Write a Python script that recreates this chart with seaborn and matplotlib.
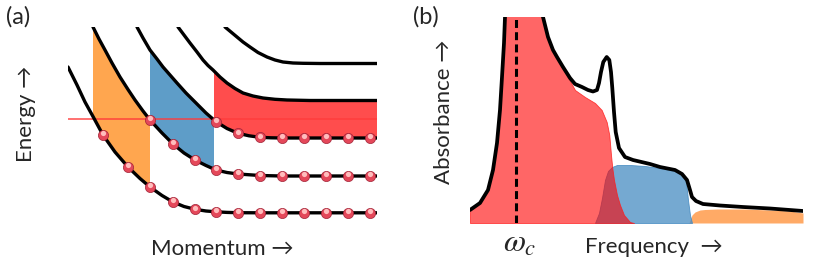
import numpy as np
import matplotlib
matplotlib.use("Agg")
import matplotlib.pyplot as plt
from matplotlib import transforms
import seaborn as sns
import pandas as pd

# ---- (a) dispersion branches: momentum vs energy (arbitrary units) ----
k1 = [0.0, 0.9, 1.7, 2.5, 3.5, 4.7, 6.0, 7.2, 8.2, 9.4, 10.5, 11.6, 12.7, 13.8, 14.8, 15.9, 17.0, 19.2, 21.4, 23.6, 25.8, 28.0, 30.9]
e1 = [15.8, 14.0, 12.3, 10.85, 9.0, 7.3, 5.8, 4.65, 3.8, 2.95, 2.3, 1.85, 1.57, 1.4, 1.32, 1.26, 1.23, 1.22, 1.22, 1.22, 1.22, 1.22, 1.22]
k2 = [2.5, 3.1, 3.7, 4.4, 5.2, 6.0, 6.7, 7.5, 8.2, 9.4, 10.5, 11.6, 12.7, 13.8, 14.8, 15.9, 17.0, 19.2, 21.4, 23.6, 25.8, 28.0, 30.9]
e2 = [19.8, 18.6, 17.5, 16.2, 14.8, 13.55, 12.5, 11.4, 10.5, 9.2, 8.1, 7.2, 6.5, 5.95, 5.5, 5.25, 5.1, 4.95, 4.9, 4.9, 4.9, 4.9, 4.9]
k3 = [6.9, 7.5, 8.2, 8.9, 9.5, 10.2, 10.9, 11.8, 12.8, 13.8, 14.8, 15.9, 17.0, 18.1, 19.2, 20.3, 21.4, 23.6, 25.8, 28.0, 30.9]
e3 = [19.8, 18.7, 17.5, 16.6, 15.8, 15.0, 14.2, 13.2, 12.2, 11.2, 10.33, 9.65, 9.17, 8.92, 8.77, 8.72, 8.7, 8.7, 8.7, 8.7, 8.7]
k4 = [11.0, 11.6, 12.2, 12.9, 13.5, 14.0, 14.5, 15.2, 15.9, 16.7, 17.5, 18.5, 19.5, 20.7, 21.9, 24.2, 30.9]
e4 = [19.8, 19.0, 18.2, 17.3, 16.5, 15.95, 15.5, 14.8, 14.2, 13.65, 13.2, 12.9, 12.7, 12.57, 12.5, 12.45, 12.45]
k5 = [15.7, 16.3, 16.9, 17.5, 18.2, 19.0, 19.9, 20.7, 21.5, 22.5, 23.5, 25.2, 30.9]
e5 = [19.8, 19.3, 18.8, 18.3, 17.8, 17.25, 16.8, 16.5, 16.3, 16.2, 16.17, 16.15, 16.15]

# occupied states (dots) on the three lowest branches
dot_k1 = [3.5, 6.0, 8.2, 10.5, 12.7, 14.8, 17.0, 19.2, 21.4, 23.6, 25.8, 28.0, 30.2]
dot_e1 = [9.0, 5.83, 3.83, 2.33, 1.57, 1.33, 1.23, 1.23, 1.23, 1.23, 1.23, 1.23, 1.23]
dot_k2 = [8.2, 10.5, 12.7, 14.8, 17.0, 19.2, 21.4, 23.6, 25.8, 28.0, 30.2]
dot_e2 = [10.5, 8.1, 6.5, 5.5, 5.1, 4.93, 4.9, 4.9, 4.9, 4.9, 4.9]
dot_k3 = [14.8, 17.0, 19.2, 21.4, 23.6, 25.8, 28.0, 30.2]
dot_e3 = [10.33, 9.17, 8.77, 8.7, 8.7, 8.7, 8.7, 8.7]

fermi_e = 10.57
band_edges = [2.5, 8.2, 14.6, 30.9]   # orange | blue | red transition windows

# ---- (b) absorbance spectrum ----
f_tot = [0.0, 1.0, 1.8, 2.3, 2.7, 3.0, 3.2, 3.4, 3.5, 3.6, 7.2, 7.3, 7.8, 8.3, 8.7, 9.3, 10.0, 10.5,
         11.2, 11.8, 12.3, 12.7, 12.9, 13.1, 13.33, 13.67, 13.93, 14.1, 14.23, 14.4, 14.57, 14.9, 15.5,
         16.3, 18.0, 19.0, 20.5, 21.2, 21.7, 22.0, 22.2, 22.6, 23.3, 25.0, 27.3, 30.0, 33.3]
a_tot = [1.3, 2.0, 3.3, 5.3, 8.0, 11.3, 14.6, 18.0, 20.6, 26.0, 26.0, 20.6, 18.6, 17.3, 16.6, 15.6, 14.5, 13.9,
         13.6, 13.3, 13.15, 13.3, 14.0, 15.1, 16.1, 16.6, 16.3, 15.1, 13.5, 11.1, 9.1, 7.5, 6.6,
         6.3, 5.9, 5.6, 5.3, 4.9, 4.3, 3.3, 2.6, 2.2, 1.9, 1.75, 1.6, 1.45, 1.2]
f_red = [0.0, 1.0, 1.8, 2.3, 2.7, 3.0, 3.2, 3.4, 3.5, 3.6, 7.2, 7.3, 7.8, 8.3, 8.7, 9.3, 10.0, 10.5,
         11.5, 12.5, 13.17, 13.67, 13.93, 14.1, 14.23, 14.4, 14.7, 15.0, 15.4, 16.0, 16.4]
a_red = [1.3, 2.0, 3.3, 5.3, 8.0, 11.3, 14.6, 18.0, 20.6, 26.0, 26.0, 20.6, 18.6, 17.3, 16.6, 15.4, 14.2, 13.3,
         12.6, 12.0, 11.3, 10.1, 8.8, 6.8, 5.5, 4.3, 2.8, 1.8, 0.8, 0.1, 0.0]
f_blue = [12.5, 12.9, 13.2, 13.5, 13.8, 14.2, 14.7, 16.0, 17.5, 19.0, 20.5, 21.3, 21.6, 21.8, 22.0, 22.2]
a_blue = [0.0, 1.0, 2.5, 4.3, 5.2, 5.6, 5.8, 5.8, 5.7, 5.5, 5.2, 4.8, 4.2, 2.3, 0.8, 0.0]
f_orange = [21.9, 22.2, 22.5, 23.0, 23.5, 24.7, 27.3, 30.0, 32.0, 33.3]
a_orange = [0.0, 0.8, 1.1, 1.3, 1.35, 1.4, 1.4, 1.3, 1.2, 1.0]
omega_c = 4.6

W, H = 830, 268
sns.set_style("white")
plt.rcParams["font.family"] = ["Lato", "DejaVu Sans"]
plt.rcParams["mathtext.fontset"] = "stix"

fig = plt.figure(figsize=(W / 100, H / 100), dpi=100)


def px_axes(x0, y0, x1, y1):
    # axes box given in picture pixels (top-left origin)
    return fig.add_axes([x0 / W, 1 - y1 / H, (x1 - x0) / W, (y1 - y0) / H])


def band(ax, k_lo, e_lo, k_hi, e_hi, a, b, color):
    lo = [(k, e) for k, e in zip(k_lo, e_lo) if a < k < b]
    hi = [(k, e) for k, e in zip(k_hi, e_hi) if a < k < b][::-1]
    xs = [a] + [p[0] for p in lo] + [b, b] + [p[0] for p in hi] + [a]
    ys = ([np.interp(a, k_lo, e_lo)] + [p[1] for p in lo] + [np.interp(b, k_lo, e_lo),
          np.interp(b, k_hi, e_hi)] + [p[1] for p in hi] + [np.interp(a, k_hi, e_hi)])
    ax.fill(xs, ys, color=color, lw=0, zorder=1)


# ---------------- panel (a) ----------------
ax1 = px_axes(68, 27, 377, 225)
ax1.set_xlim(0, 30.9)
ax1.set_ylim(0, 19.8)
ax1.set_axis_off()

band(ax1, k1, e1, k2, e2, band_edges[0], band_edges[1], "#FFA64F")
band(ax1, k2, e2, k3, e3, band_edges[1], band_edges[2], "#5E9DC8")
band(ax1, k3, e3, k4, e4, band_edges[2], band_edges[3], "#FF4D4D")

ax1.plot([0, 30.9], [fermi_e, fermi_e], color="#FF3B3B", lw=1.2, alpha=0.85, zorder=2)

for kk, ee in [(k1, e1), (k2, e2), (k3, e3), (k4, e4), (k5, e5)]:
    sns.lineplot(x=kk, y=ee, ax=ax1, color="black", lw=2.4, sort=False,
                 estimator=None, zorder=3)

dots = pd.DataFrame({
    "k": dot_k1 + dot_k2 + dot_k3,
    "E": dot_e1 + dot_e2 + dot_e3,
})
sns.scatterplot(data=dots, x="k", y="E", ax=ax1, s=54, color="#E4485A",
                edgecolor="#A02236", linewidth=0.5, zorder=4, legend=False, clip_on=False)
shift = transforms.offset_copy(ax1.transData, fig=fig, x=-0.3, y=1.2, units="points")
sns.scatterplot(data=dots, x="k", y="E", ax=ax1, s=14, color="#FFBDBD",
                linewidth=0, zorder=5, legend=False, transform=shift, clip_on=False)

# ---------------- panel (b) ----------------
ax2 = px_axes(470, 17, 803, 223)
ax2.set_xlim(0, 33.3)
ax2.set_ylim(0, 20.6)
ax2.set_axis_off()

ax2.fill_between(f_orange, 0, a_orange, color="#FFAA66", lw=0, zorder=1)
ax2.fill_between(f_blue, 0, a_blue, facecolor=(71 / 255, 140 / 255, 194 / 255, 0.75),
                 edgecolor=(71 / 255, 140 / 255, 194 / 255, 0.9), lw=0.6, zorder=2)
ax2.fill_between(f_red, 0, a_red, facecolor=(1, 0, 0, 0.6),
                 edgecolor=(1, 0.1, 0.1, 0.8), lw=0.6, zorder=3)

sns.lineplot(x=f_tot, y=a_tot, ax=ax2, color="black", lw=2.7, sort=False,
             estimator=None, zorder=4)
ax2.axvline(omega_c, color="black", lw=2.2, ls=(0, (2.6, 1.4)), zorder=5)

# ---------------- labels ----------------
def ftext(x, y, s, **kw):
    fig.text(x / W, 1 - y / H, s, ha="center", va="center", **kw)


ftext(18, 17, "(a)", fontsize=17)
ftext(426, 17, "(b)", fontsize=17)
ftext(26, 114, "Energy \u2192", fontsize=16, rotation=90)
ftext(222, 249, "Momentum \u2192", fontsize=16)
ftext(444, 112, "Absorbance \u2192", fontsize=16, rotation=90)
ftext(654, 247, "Frequency  \u2192", fontsize=16)
ftext(520, 243, r"$\omega_c$", fontsize=23)

fig.savefig("out.png", dpi=100)
